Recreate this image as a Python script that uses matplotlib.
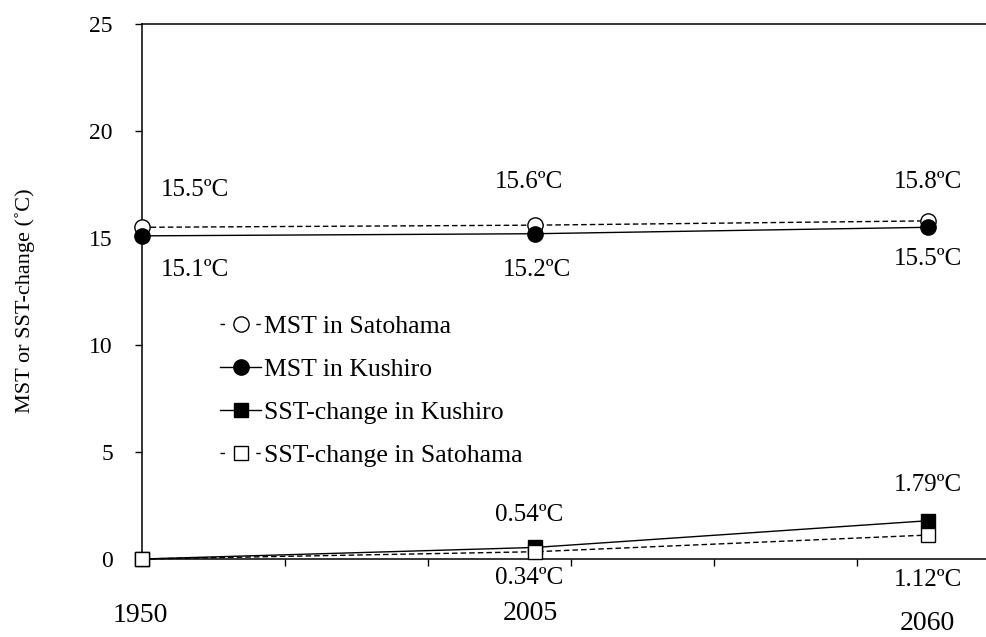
import matplotlib
matplotlib.use("Agg")
import matplotlib.pyplot as plt
from matplotlib.lines import Line2D

plt.rcParams['font.family'] = ['Liberation Serif', 'DejaVu Serif']

years = [1950, 2005, 2060]
mst_satohama = [15.5, 15.6, 15.8]
mst_kushiro = [15.1, 15.2, 15.5]
sst_kushiro = [0.0, 0.54, 1.79]
sst_satohama = [0.0, 0.34, 1.12]

series_names = ['MST in Satohama', 'MST in Kushiro', 'SST-change in Kushiro', 'SST-change in Satohama']
lab_mst_sato = ["15.5ºC", "15.6ºC", "15.8ºC"]
lab_mst_kush = ["15.1ºC", "15.2ºC", "15.5ºC"]
lab_sst_kush = ["0.54ºC", "1.79ºC"]
lab_sst_sato = ["0.34ºC", "1.12ºC"]
year_labels = ["1950", "2005", "2060"]

W, H = 987, 637
fig = plt.figure(figsize=(W / 100, H / 100), dpi=100)
x0, x1 = 142, 1000
y0, y1 = 559, 24
ax = fig.add_axes([x0 / W, 1 - y0 / H, (x1 - x0) / W, (y0 - y1) / H])

ms = 11
lw = 1.0
dash = (0, (4, 2.2))
styles = [
    dict(ls=dash, marker='o', mfc='white', ms=ms),
    dict(ls='-', marker='o', mfc='black', ms=ms),
    dict(ls='-', marker='s', mfc='black', ms=10.5),
    dict(ls=dash, marker='s', mfc='white', ms=10.5),
]
data = [mst_satohama, mst_kushiro, sst_kushiro, sst_satohama]
for i, (vals, st, name) in enumerate(zip(data, styles, series_names)):
    ax.plot(years, vals, linestyle=st['ls'], color='black', lw=lw, marker=st['marker'],
            ms=st['ms'], mfc=st['mfc'], mec='black', mew=1.0, label=name,
            clip_on=False, zorder=3 + i)

ax.set_xlim(1950, 2070)
ax.set_ylim(0, 25)
ax.set_xticks(range(1950, 2071, 20))
ax.set_xticklabels([])
ax.set_yticks(range(0, 26, 5))
ax.tick_params(axis='both', direction='out', length=5, width=1, labelsize=17)
ax.tick_params(axis='y', pad=16)
for s in ['left', 'bottom', 'top']:
    ax.spines[s].set_linewidth(1.1)
ax.spines['right'].set_visible(False)

ax.set_ylabel('MST or SST-change (˚C)', fontsize=16, va='center')
ax.yaxis.set_label_coords((25 - x0) / (x1 - x0), 1 - (301 - y1) / (y0 - y1))

fs = 18


def lab(text, x, y, dx, dy, size=fs):
    ax.annotate(text, (x, y), xytext=(dx, dy), textcoords='offset pixels',
                ha='center', va='center', fontsize=size, annotation_clip=False)


# MST labels
lab(lab_mst_sato[0], years[0], mst_satohama[0], 53, 37)
lab(lab_mst_sato[1], years[1], mst_satohama[1], -6, 43)
lab(lab_mst_sato[2], years[2], mst_satohama[2], -1, 39)
lab(lab_mst_kush[0], years[0], mst_kushiro[0], 53, -34)
lab(lab_mst_kush[1], years[1], mst_kushiro[1], 2, -36)
lab(lab_mst_kush[2], years[2], mst_kushiro[2], -1, -32)
# SST labels
lab(lab_sst_kush[0], years[1], sst_kushiro[1], -6, 32)
lab(lab_sst_kush[1], years[2], sst_kushiro[2], -1, 36)
lab(lab_sst_sato[0], years[1], sst_satohama[1], -6, -26)
lab(lab_sst_sato[1], years[2], sst_satohama[2], -1, -45)

# year labels under the axis
yoffs = [(-2, -56), (-5, -55), (-1, -65)]
for yr, t, (dx, dy) in zip(years, year_labels, yoffs):
    lab(t, yr, 0, dx, dy, size=20)

# legend handles: short dashes at the ends for dashed series ("-o-")
leg_dash = (0, (3.2, 22.6))
handles = []
for st, name in zip(styles, series_names):
    handles.append(Line2D([], [], color='black', lw=lw,
                          linestyle=(leg_dash if st['ls'] != '-' else '-'),
                          marker=st['marker'], ms=st['ms'], mfc=st['mfc'],
                          mec='black', mew=1.0, label=name))

leg = ax.legend(handles=handles, loc='center left',
                bbox_to_anchor=((220 - x0) / (x1 - x0), 1 - (391 - y1) / (y0 - y1)),
                frameon=False, fontsize=18.5, handlelength=1.6, handletextpad=0.12,
                labelspacing=0.77, borderaxespad=0, borderpad=0)

fig.savefig('out.png', dpi=100)
